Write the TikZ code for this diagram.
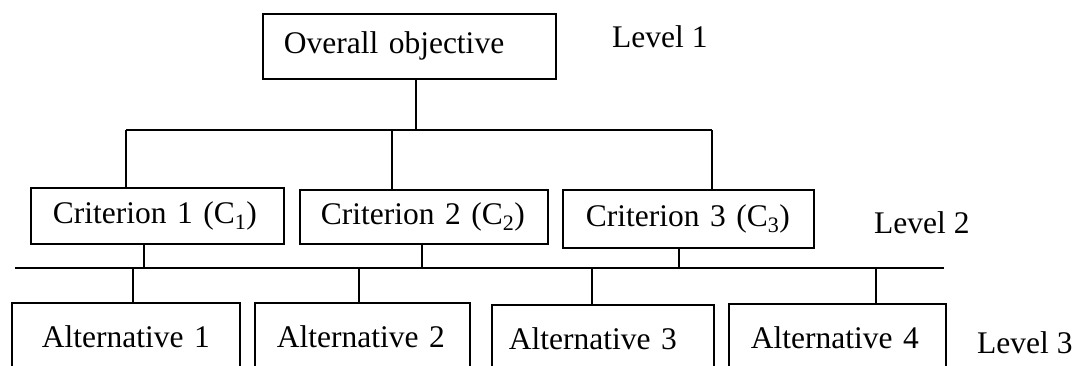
\documentclass[tikz,border=0pt]{standalone}
\usepackage{fontspec}
\setmainfont{Liberation Serif}
\begin{document}
\begin{tikzpicture}[x=1pt,y=-1pt,
  wire/.style={line width=1.6pt},
  box/.style={draw, line width=1.6pt, rectangle, anchor=north west,
    align=left, inner ysep=0pt, font=\fontsize{31.5}{36}\selectfont},
  tag/.style={anchor=base west, inner sep=0pt, font=\fontsize{31.5}{36}\selectfont}]
\useasboundingbox (0,0) rectangle (1078,365);
\clip (0,0) rectangle (1078,365);

% level 1
\node[box, inner xsep=21pt, text width=251pt, minimum height=65pt] (obj) at (262,13) {\mbox{Overall objective}};
\node[tag] (lv1) at (612,47) {Level 1};

% level 2
\node[box, inner xsep=22pt, text width=209pt, minimum height=56pt] (c1) at (30,187) {\mbox{Criterion 1 (C\textsubscript{1})}};
\node[box, inner xsep=21pt, text width=206pt, minimum height=54pt] (c2) at (299,189) {\mbox{Criterion 2 (C\textsubscript{2})}};
\node[box, inner xsep=23pt, text width=205pt, minimum height=58pt] (c3) at (562,189) {\mbox{Criterion 3 (C\textsubscript{3})}};
\node[tag] (lv2) at (874,233) {Level 2};

% level 3 (boxes run past the lower edge)
\node[box, inner xsep=30pt, text width=168pt, minimum height=68pt] (a1) at (11,302) {\mbox{Alternative 1}};
\node[box, inner xsep=22pt, text width=171pt, minimum height=68pt] (a2) at (254,302) {\mbox{Alternative 2}};
\node[box, inner xsep=17pt, text width=188pt, minimum height=68pt] (a3) at (491,304) {\mbox{Alternative 3}};
\node[box, inner xsep=22pt, text width=173pt, minimum height=68pt] (a4) at (728,303) {\mbox{Alternative 4}};
\node[tag] (lv3) at (977,353) {Level 3};

% upper bus
\coordinate (busL) at (126,130);
\coordinate (busM) at (392,130);
\coordinate (busR) at (712,130);
\coordinate (busO) at (416,130);
\draw[wire] (obj.south -| busO) -- (busO);
\draw[wire] (busL) -- (busR);
\draw[wire] (busL) -- (busL |- c1.north);
\draw[wire] (busM) -- (busM |- c2.north);
\draw[wire] (busR) -- (busR |- c3.north);

% lower bus
\coordinate (midL) at (15,268);
\coordinate (midR) at (944,268);
\draw[wire] (midL) -- (midR);
\coordinate (m1) at (144,268);
\coordinate (m2) at (422,268);
\coordinate (m3) at (679,268);
\draw[wire] (m1 |- c1.south) -- (m1);
\draw[wire] (m2 |- c2.south) -- (m2);
\draw[wire] (m3 |- c3.south) -- (m3);
\coordinate (d1) at (133,268);
\coordinate (d2) at (359,268);
\coordinate (d3) at (592,268);
\coordinate (d4) at (876,268);
\draw[wire] (d1) -- (d1 |- a1.north);
\draw[wire] (d2) -- (d2 |- a2.north);
\draw[wire] (d3) -- (d3 |- a3.north);
\draw[wire] (d4) -- (d4 |- a4.north);
\end{tikzpicture}
\end{document}
